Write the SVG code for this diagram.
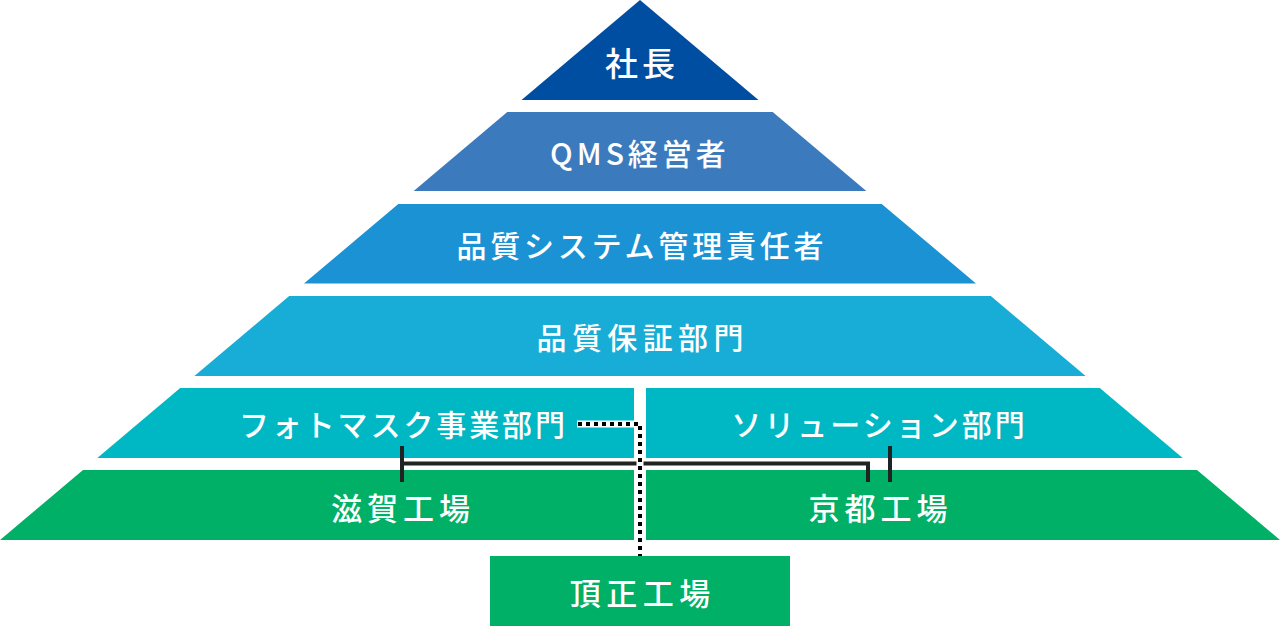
<svg xmlns="http://www.w3.org/2000/svg" width="1280" height="626" viewBox="0 0 1280 626">
<style>
  text { font-family: "Noto Sans CJK JP", "Noto Sans", sans-serif; fill: #ffffff; font-size: 30px; text-anchor: middle; dominant-baseline: central; font-weight: 500; }
  .t1 { fill: #004ea2; }
  .t2 { fill: #3c7abe; }
  .t3 { fill: #1a92d4; }
  .t4 { fill: #17add6; }
  .t5 { fill: #00b8c4; }
  .t6 { fill: #00b066; }
  .solid { stroke: #222222; stroke-width: 4; fill: none; }
  .dotw { stroke: #ffffff; stroke-width: 7; fill: none; }
  .dot { stroke: #000000; stroke-width: 4; fill: none; stroke-dasharray: 4 4; }
</style>
<g id="president">
  <polygon class="t1" points="640,0 758.5,100 521.5,100"/>
  <text x="642" y="62" style="font-size:33px;letter-spacing:4px">社長</text>
</g>
<g id="qms-manager">
  <polygon class="t2" points="507.3,112 772.7,112 866.3,191 413.7,191"/>
  <text x="640" y="152" style="letter-spacing:4px">QMS経営者</text>
</g>
<g id="qms-responsible">
  <polygon class="t3" points="398.3,204 881.7,204 976,283.5 304,283.5"/>
  <text x="641.9" y="244" style="letter-spacing:3.8px">品質システム管理責任者</text>
</g>
<g id="qa-dept">
  <polygon class="t4" points="289.2,296 990.8,296 1085.6,376 194.4,376"/>
  <text x="642.7" y="336" style="letter-spacing:5.4px">品質保証部門</text>
</g>
<g id="photomask-dept">
  <polygon class="t5" points="180.2,388 634,388 634,458 97.3,458"/>
  <text x="403.4" y="423" style="letter-spacing:2.9px">フォトマスク事業部門</text>
</g>
<g id="solution-dept">
  <polygon class="t5" points="646,388 1099.8,388 1182.7,458 646,458"/>
  <text x="879.5" y="423" style="letter-spacing:3px">ソリューション部門</text>
</g>
<g id="shiga-factory">
  <polygon class="t6" points="83,470 634,470 634,540 0,540"/>
  <text x="403" y="506" style="font-size:31px;letter-spacing:5px">滋賀工場</text>
</g>
<g id="kyoto-factory">
  <polygon class="t6" points="646,470 1197,470 1280,540 646,540"/>
  <text x="880.5" y="506" style="font-size:31px;letter-spacing:5px">京都工場</text>
</g>
<g id="chosei-factory">
  <rect class="t6" x="490" y="556" width="300" height="70"/>
  <text x="642.7" y="591" style="font-size:31px;letter-spacing:5.5px">頂正工場</text>
</g>
<g id="connectors">
  <polyline class="solid" points="402,446 402,482"/>
  <polyline class="solid" points="402,463.5 868,463.5 868,482"/>
  <polyline class="solid" points="890,446 890,482"/>
  <polyline class="dotw" points="577,424 640,424 640,556"/>
  <polyline class="dot" points="578,424 640,424 640,556"/>
</g>
</svg>
